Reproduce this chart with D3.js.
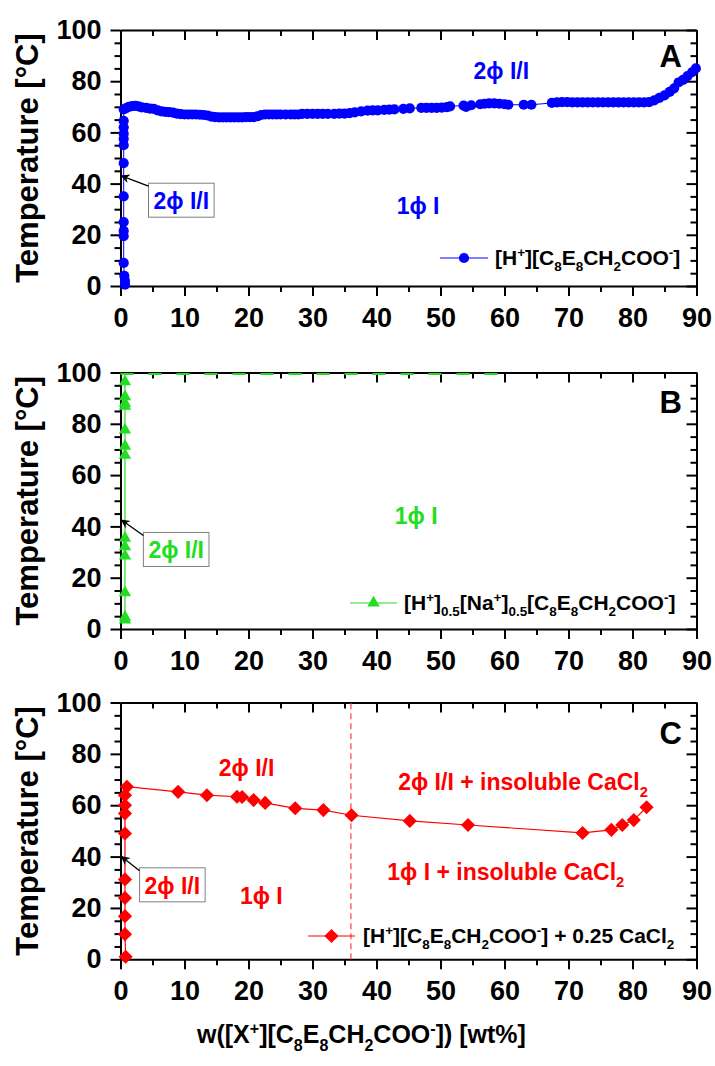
<!DOCTYPE html>
<html>
<head>
<meta charset="utf-8">
<script src="https://cdn.jsdelivr.net/npm/d3@7"></script>
<style>
  body { margin: 0; background: #fff; }
  text { font-family: "Liberation Sans", Arial, sans-serif; font-weight: bold; }
</style>
</head>
<body>
<script>
// ---- data ----
// panel A: [H+][C8E8CH2COO-]
var aVertX = [0.7, 0.7, 0.6, 0.5, 0.5, 0.5, 0.5, 0.5, 0.5, 0.5, 0.5, 0.5, 0.5, 0.5];
var aVertT = [0.5, 2, 4, 9, 19.5, 21.5, 25, 35, 48, 55, 57.5, 59.5, 62, 64.5];
var aCurveX = [0.5, 0.9, 1.3, 1.8, 2.3, 2.8, 3.3, 4.0, 4.6, 5.2, 5.8, 6.4, 7.0, 7.6, 8.2, 8.8, 9.4, 10.0, 10.6, 11.2,
  11.8, 12.4, 13.0, 13.6, 14.2, 14.8, 15.4, 16.0, 16.6, 17.2, 17.8, 18.4, 19.0, 19.6, 20.2, 20.8, 21.4, 22.0, 22.6, 23.2,
  23.8, 24.4, 25.0, 25.8, 26.6, 27.2, 27.8, 28.4, 29.2, 30.0, 30.8, 31.6, 32.4, 33.4, 34.2, 35.0, 35.8, 36.6, 37.6, 38.6,
  39.4, 40.2, 41.2, 42.0, 42.8, 44.2, 45.2, 47.0, 47.8, 48.6, 49.4, 50.2, 51.0, 51.5, 53.6, 54.0, 54.8, 56.2, 56.9, 57.6,
  58.4, 59.2, 60.0, 60.6, 63.0, 64.2, 67.4, 68.2, 69.0, 69.8, 70.6, 71.4, 72.2, 73.0, 73.8, 74.6, 75.4, 76.2, 77.0, 77.8,
  78.6, 79.4, 80.2, 81.0, 81.8, 82.6, 83.4, 84.2, 85.0, 85.8, 86.5, 87.2, 87.9, 88.6, 89.3, 89.9];
var aCurveT = [69, 69.5, 70, 70.3, 70.4, 70.2, 69.8, 69.6, 69.3, 69.2, 68.6, 68.2, 68, 67.9, 67.7, 67.3, 67.1, 67, 67, 67,
  67, 66.9, 66.8, 66.6, 66.2, 66, 65.9, 65.9, 65.9, 65.9, 65.9, 65.9, 65.9, 66, 66, 66, 66.3, 66.8, 67, 67,
  67, 67, 67, 67, 67, 67, 67, 67.2, 67.2, 67.2, 67.2, 67.2, 67.2, 67.2, 67.3, 67.3, 67.5, 67.8, 68.2, 68.5,
  68.6, 68.6, 68.8, 68.9, 69, 69.2, 69.4, 69.6, 69.6, 69.6, 69.6, 69.7, 69.9, 70.2, 70.5, 70, 70.6, 71, 71.2, 71.3,
  71.3, 71.2, 71, 70.8, 70.8, 70.8, 71.5, 71.7, 71.8, 71.8, 71.7, 71.7, 71.7, 71.7, 71.7, 71.7, 71.7, 71.7, 71.7, 71.7,
  71.7, 71.7, 71.7, 71.7, 71.7, 71.8, 72.5, 73.5, 74.5, 75.8, 77.2, 79.5, 80.5, 82, 83.5, 85];

// panel B: [H+]0.5[Na+]0.5[C8E8CH2COO-]
var bX = [0.7, 0.7, 0.7, 0.7, 0.7, 0.7, 0.7, 0.7, 0.7, 0.7, 0.7, 0.7, 0.7];
var bT = [3.5, 4.6, 14.2, 28.5, 32.1, 35.4, 67.8, 71.3, 77.6, 86.9, 88, 90.6, 96.4];
var bTopX = [0, 59];   // dashed boundary along 100 °C
var bTopT = [100, 100];

// panel C: [H+][C8E8CH2COO-] + 0.25 CaCl2
var cVertX = [0.8, 0.7, 0.7, 0.7, 0.7, 0.7, 0.7, 0.7, 0.7, 1.0];
var cVertT = [1, 9.8, 16.8, 23.9, 31.1, 49, 56.8, 60, 63.9, 67.2];
var cCurveX = [9, 13.5, 18.2, 19, 20.8, 22.6, 27.3, 31.7, 36.1, 45.2, 54.3, 72.2, 76.7, 78.4, 80.2, 82.2];
var cCurveT = [65.2, 63.9, 63.3, 63.2, 62, 60.9, 58.8, 58.1, 56.1, 53.9, 52.3, 49.2, 50.4, 52.3, 54.2, 59.2];
var cSplitX = 36;

var xTicks = [0, 10, 20, 30, 40, 50, 60, 70, 80, 90];
var yTicks = [0, 20, 40, 60, 80, 100];

// ---- layout ----
var W = 715, H = 1066;
var left = 120.5, right = 696.5;
var blue = "#0000ff", green = "#22dd22", red = "#ff0000";
var PHI = "\u03d5";

var svg = d3.select("body").append("svg").attr("width", W).attr("height", H);

var x = d3.scaleLinear().domain([0, 90]).range([left, right]);

function zip(xs, ys) { return xs.map(function(d, i) { return [d, ys[i]]; }); }

// text with _{sub} and ^{sup}
function rich(sel, str, size) {
  var re = /([_^])\{([^}]*)\}|([^_^]+)/g, m, cur = 0;
  while ((m = re.exec(str))) {
    var shift = 0, txt = m[3], fs = size;
    if (m[1]) { shift = m[1] === "_" ? 0.3 * size : -0.38 * size; txt = m[2]; fs = size * 0.64; }
    sel.append("tspan").attr("dy", shift - cur).attr("font-size", fs).text(txt);
    cur = shift;
  }
}

function panel(top, bottom, letter, letterY) {
  var h = bottom - top;
  var g = svg.append("g").attr("transform", "translate(0," + top + ")");
  var y = d3.scaleLinear().domain([0, 100]).range([h, 0]);
  var minorX = d3.range(5, 90, 10), minorY = d3.range(5, 100, 5).filter(function(d) { return d % 20; });

  function style(a) {
    a.selectAll("path, line").attr("stroke", "#000").attr("stroke-width", 2);
    a.selectAll("text").attr("font-size", 27).attr("fill", "#000");
  }
  // bottom
  g.append("g").attr("transform", "translate(0," + h + ")")
    .call(d3.axisBottom(x).tickValues(xTicks).tickSize(10).tickSizeOuter(0).tickPadding(12)).call(style);
  g.append("g").attr("transform", "translate(0," + h + ")")
    .call(d3.axisBottom(x).tickValues(minorX).tickSize(6).tickFormat("")).call(style).select(".domain").remove();
  // top (inward)
  g.append("g").call(d3.axisTop(x).tickValues(xTicks).tickSize(-10).tickSizeOuter(0).tickFormat("")).call(style);
  g.append("g").call(d3.axisTop(x).tickValues(minorX).tickSize(-6).tickFormat("")).call(style).select(".domain").remove();
  // left
  g.append("g").attr("transform", "translate(" + left + ",0)")
    .call(d3.axisLeft(y).tickValues(yTicks).tickSize(10).tickSizeOuter(0).tickPadding(9)).call(style);
  g.append("g").attr("transform", "translate(" + left + ",0)")
    .call(d3.axisLeft(y).tickValues(minorY).tickSize(6).tickFormat("")).call(style).select(".domain").remove();
  // right (inward)
  g.append("g").attr("transform", "translate(" + right + ",0)")
    .call(d3.axisRight(y).tickValues(yTicks).tickSize(-10).tickSizeOuter(0).tickFormat("")).call(style);
  g.append("g").attr("transform", "translate(" + right + ",0)")
    .call(d3.axisRight(y).tickValues(minorY).tickSize(-6).tickFormat("")).call(style).select(".domain").remove();

  g.append("text").attr("transform", "translate(38," + (h / 2) + ") rotate(-90)")
    .attr("text-anchor", "middle").attr("font-size", 31).text("Temperature [°C]");
  g.append("text").attr("x", 682).attr("y", letterY).attr("text-anchor", "end")
    .attr("font-size", 31).text(letter);

  var plot = g.append("g");
  return { g: g, plot: plot, y: y };
}

function label(p, str, xv, tv, color, anchor) {
  var t = p.plot.append("text").attr("x", x(xv)).attr("y", p.y(tv))
    .attr("text-anchor", anchor || "middle").attr("fill", color).attr("font-size", 23);
  rich(t, str, 23);
  return t;
}

svg.append("defs").append("marker").attr("id", "arr").attr("viewBox", "0 0 10 10")
  .attr("refX", 9).attr("refY", 5).attr("markerWidth", 11).attr("markerHeight", 9)
  .attr("markerUnits", "userSpaceOnUse").attr("orient", "auto")
  .append("path").attr("d", "M0,0L10,5L0,10L3,5Z").attr("fill", "#000");

function boxLabel(p, cx, ct, tipX, tipT, color) {
  var t = label(p, "2" + PHI + " I/I", cx, ct, color);
  var bb = t.node().getBBox();
  p.plot.insert("rect", "text").attr("x", bb.x - 5).attr("y", bb.y - 5)
    .attr("width", bb.width + 10).attr("height", bb.height + 8)
    .attr("fill", "#fff").attr("stroke", "#808080").attr("stroke-width", 1);
  p.plot.append("line").attr("x1", bb.x - 5).attr("y1", bb.y - 2)
    .attr("x2", x(tipX)).attr("y2", p.y(tipT))
    .attr("stroke", "#000").attr("stroke-width", 1.3).attr("marker-end", "url(#arr)");
}

function legend(p, str, lx0, lx1, ly, color, sym, tx, tyOff) {
  p.plot.append("line").attr("x1", lx0).attr("x2", lx1).attr("y1", ly).attr("y2", ly)
    .attr("stroke", color).attr("stroke-width", 1.2);
  sym(p.plot.append("g").attr("transform", "translate(" + ((lx0 + lx1) / 2) + "," + ly + ")"));
  var t = p.plot.append("text").attr("x", tx).attr("y", ly + tyOff).attr("font-size", 21).attr("fill", "#000");
  rich(t, str, 21);
}

function circ(color) { return function(s) { s.append("circle").attr("r", 5.1).attr("fill", color); }; }
function tri(color) { return function(s) { s.append("path").attr("d", d3.symbol(d3.symbolTriangle, 66)()).attr("fill", color); }; }
function dia(color) { return function(s) { s.append("path").attr("d", d3.symbol(d3.symbolSquare, 100)()).attr("transform", "rotate(45)").attr("fill", color); }; }

var line = function(p) { return d3.line().x(function(d) { return x(d[0]); }).y(function(d) { return p.y(d[1]); }); };

function markers(p, pts, sym) {
  p.plot.selectAll(".pt").data(pts).enter().append("g")
    .attr("transform", function(d) { return "translate(" + x(d[0]) + "," + p.y(d[1]) + ")"; })
    .each(function() { sym(d3.select(this)); });
}

// ---- panel A ----
var pA = panel(30, 286, "A", 37);
var aPts = zip(aVertX, aVertT).concat(zip(aCurveX, aCurveT));
pA.plot.append("path").attr("d", line(pA)(aPts)).attr("fill", "none").attr("stroke", blue).attr("stroke-width", 1);
markers(pA, aPts, circ(blue));
label(pA, "2" + PHI + " I/I", 59.5, 81, blue);
label(pA, "1" + PHI + " I", 46.5, 28, blue);
boxLabel(pA, 9.5, 30, 0.15, 43, blue);
legend(pA, "[H^{+}][C_{8}E_{8}CH_{2}COO^{-}]", 440, 488, 228, blue, circ(blue), 495, 7);

// ---- panel B ----
var pB = panel(372.5, 629, "B", 40);
pB.plot.append("path").attr("d", line(pB)(zip(bTopX, bTopT))).attr("fill", "none")
  .attr("stroke", green).attr("stroke-width", 2).attr("stroke-dasharray", "13,15")
  .attr("transform", "translate(0,1.5)");
var bPts = zip(bX, bT);
pB.plot.append("path").attr("d", line(pB)(bPts)).attr("fill", "none").attr("stroke", green).attr("stroke-width", 1.2);
markers(pB, bPts, tri(green));
label(pB, "1" + PHI + " I", 46.2, 41, green);
boxLabel(pB, 8.7, 27.5, 0.15, 42.5, green);
legend(pB, "[H^{+}]_{0.5}[Na^{+}]_{0.5}[C_{8}E_{8}CH_{2}COO^{-}]", 350, 397, 230.5, green, tri(green), 404, 7);

// ---- panel C ----
var pC = panel(702.5, 959.3, "C", 41);
pC.plot.append("line").attr("x1", x(cSplitX)).attr("x2", x(cSplitX)).attr("y1", pC.y(0)).attr("y2", pC.y(100))
  .attr("stroke", "#ff4d4d").attr("stroke-width", 1.3).attr("stroke-dasharray", "6,4");
var cPts = zip(cVertX, cVertT).concat(zip(cCurveX, cCurveT));
pC.plot.append("path").attr("d", line(pC)(cPts)).attr("fill", "none").attr("stroke", red).attr("stroke-width", 1.2);
markers(pC, cPts, dia(red));
label(pC, "2" + PHI + " I/I", 19.7, 71.4, red);
label(pC, "1" + PHI + " I", 22, 21.5, red);
label(pC, "2" + PHI + " I/I + insoluble CaCl_{2}", 62.9, 66, red);
label(pC, "1" + PHI + " I + insoluble CaCl_{2}", 60.2, 31, red);
boxLabel(pC, 8.1, 25.5, 0.15, 40, red);
legend(pC, "[H^{+}][C_{8}E_{8}CH_{2}COO^{-}] + 0.25 CaCl_{2}", 308, 355, 233.5, red, dia(red), 363, 7);

// x title
var xt = svg.append("text").attr("x", 197).attr("y", 1043).attr("font-size", 25);
rich(xt, "w([X^{+}][C_{8}E_{8}CH_{2}COO^{-}]) [wt%]", 25);
</script>
</body>
</html>
